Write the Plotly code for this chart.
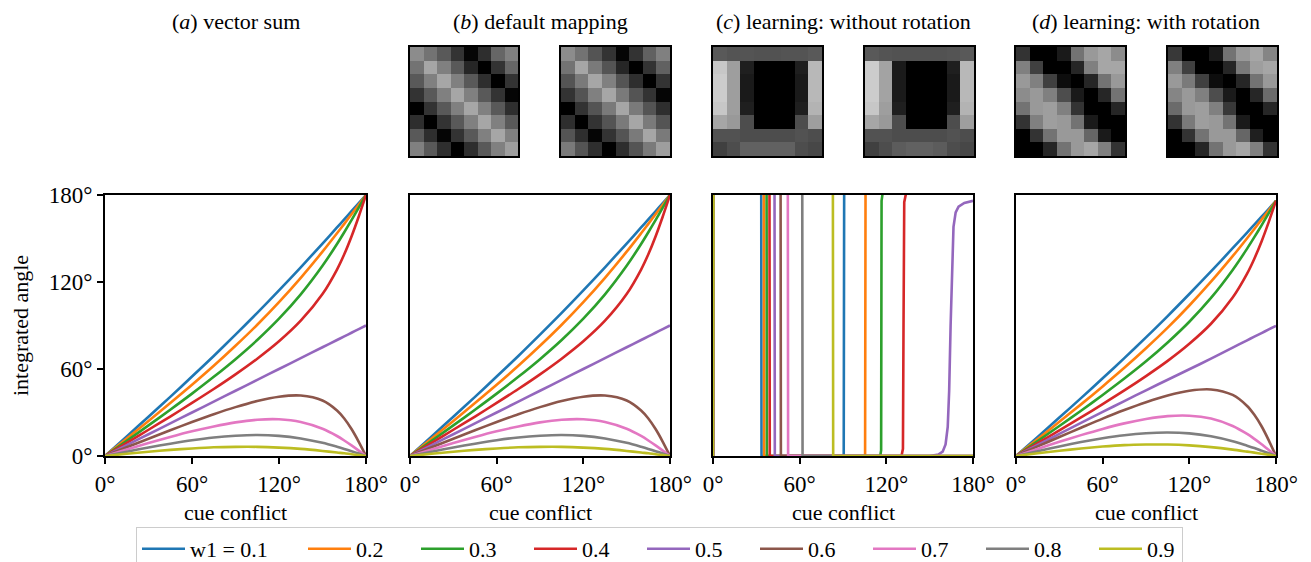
import plotly.graph_objects as go

# ---------------- data ----------------
CUE = [0, 15, 30, 45, 60, 75, 90, 105, 120, 135, 150, 160, 165, 170, 175, 180]
TICKS = [0, 60, 120, 180]
TICK_LABELS = ["0°", "60°", "120°", "180°"]
W1_LABELS = ["w1 = 0.1", "0.2", "0.3", "0.4", "0.5", "0.6", "0.7", "0.8", "0.9"]
COLORS = ["#1f77b4", "#ff7f0e", "#2ca02c", "#d62728", "#9467bd",
          "#8c564b", "#e377c2", "#7f7f7f", "#bcbd22"]
PANEL_TITLES = ["(<i>a</i>) vector sum", "(<i>b</i>) default mapping",
                "(<i>c</i>) learning: without rotation", "(<i>d</i>) learning: with rotation"]

# (a) vector sum: integrated angle per w1 (rows) at CUE
VECTOR_SUM = [
    [0, 13.5, 27.1, 40.8, 54.8, 69.0, 83.7, 98.7, 114.2, 130.1, 146.5, 157.6, 163.2, 168.8, 174.4, 180],
    [0, 12.0, 24.1, 36.5, 49.1, 62.2, 76.0, 90.5, 106.1, 122.9, 140.9, 153.6, 160.1, 166.7, 173.3, 180],
    [0, 10.5, 21.1, 31.9, 43.0, 54.6, 66.8, 80.0, 94.7, 111.5, 131.2, 146.2, 154.3, 162.7, 171.3, 180],
    [0, 9.0, 18.1, 27.2, 36.6, 46.2, 56.3, 67.1, 79.1, 93.3, 111.7, 128.6, 139.1, 151.4, 165.2, 180],
    [0, 7.5, 15.0, 22.5, 30.0, 37.5, 45.0, 52.5, 60.0, 67.5, 75.0, 80.0, 82.5, 85.0, 87.5, 90],
    [0, 6.0, 11.9, 17.8, 23.4, 28.8, 33.7, 37.9, 40.9, 41.7, 38.3, 31.4, 25.9, 18.6, 9.8, 0],
    [0, 4.5, 8.9, 13.1, 17.0, 20.4, 23.2, 25.0, 25.3, 23.5, 18.8, 13.8, 10.7, 7.3, 3.7, 0],
    [0, 3.0, 5.9, 8.5, 10.9, 12.8, 14.0, 14.5, 13.9, 12.1, 9.1, 6.4, 4.9, 3.3, 1.7, 0],
    [0, 1.5, 2.9, 4.2, 5.2, 6.0, 6.3, 6.3, 5.8, 4.9, 3.5, 2.4, 1.9, 1.2, 0.6, 0],
]

# (b) default mapping (read values coincide with panel a)
DEFAULT_MAPPING = [
    [0, 13.5, 27.1, 40.8, 54.8, 69.0, 83.7, 98.7, 114.2, 130.1, 146.5, 157.6, 163.2, 168.8, 174.4, 180],
    [0, 12.0, 24.1, 36.5, 49.1, 62.2, 76.0, 90.5, 106.1, 122.9, 140.9, 153.6, 160.1, 166.7, 173.3, 180],
    [0, 10.5, 21.1, 31.9, 43.0, 54.6, 66.8, 80.0, 94.7, 111.5, 131.2, 146.2, 154.3, 162.7, 171.3, 180],
    [0, 9.0, 18.1, 27.2, 36.6, 46.2, 56.3, 67.1, 79.1, 93.3, 111.7, 128.6, 139.1, 151.4, 165.2, 180],
    [0, 7.5, 15.0, 22.5, 30.0, 37.5, 45.0, 52.5, 60.0, 67.5, 75.0, 80.0, 82.5, 85.0, 87.5, 90],
    [0, 6.0, 11.9, 17.8, 23.4, 28.8, 33.7, 37.9, 40.9, 41.7, 38.3, 31.4, 25.9, 18.6, 9.8, 0],
    [0, 4.5, 8.9, 13.1, 17.0, 20.4, 23.2, 25.0, 25.3, 23.5, 18.8, 13.8, 10.7, 7.3, 3.7, 0],
    [0, 3.0, 5.9, 8.5, 10.9, 12.8, 14.0, 14.5, 13.9, 12.1, 9.1, 6.4, 4.9, 3.3, 1.7, 0],
    [0, 1.5, 2.9, 4.2, 5.2, 6.0, 6.3, 6.3, 5.8, 4.9, 3.5, 2.4, 1.9, 1.2, 0.6, 0],
]

# (d) learning with rotation
WITH_ROTATION = [
    [0, 13.2, 26.5, 39.9, 53.6, 67.5, 81.8, 96.5, 111.7, 127.3, 143.3, 154.1, 159.6, 165.0, 170.5, 176],
    [0, 11.7, 23.6, 35.6, 48.0, 60.8, 74.3, 88.5, 103.8, 120.2, 137.8, 150.2, 156.6, 163.0, 169.5, 176],
    [0, 10.3, 20.7, 31.2, 42.1, 53.4, 65.3, 78.3, 92.6, 109.0, 128.3, 143.0, 150.9, 159.1, 167.5, 176],
    [0, 8.8, 17.7, 26.6, 35.8, 45.2, 55.1, 65.6, 77.4, 91.2, 109.3, 125.8, 136.1, 148.0, 161.5, 176],
    [0, 7.6, 15.2, 22.8, 30.4, 37.9, 45.3, 52.6, 59.8, 67.1, 74.8, 79.8, 82.3, 84.8, 87.3, 89.8],
    [0, 6.6, 13.1, 19.5, 25.8, 31.7, 37.1, 41.7, 45.0, 45.9, 42.1, 34.5, 28.4, 20.5, 10.8, 0],
    [0, 4.9, 9.8, 14.4, 18.7, 22.5, 25.5, 27.5, 27.8, 25.8, 20.7, 15.2, 11.8, 8.1, 4.1, 0],
    [0, 3.3, 6.6, 9.6, 12.2, 14.3, 15.7, 16.2, 15.6, 13.6, 10.2, 7.1, 5.5, 3.7, 1.9, 0],
    [0, 1.9, 3.6, 5.2, 6.5, 7.5, 7.9, 7.9, 7.3, 6.1, 4.4, 3.0, 2.3, 1.6, 0.8, 0],
]

# (c) learning without rotation: step-like curves (x, y pairs per w1)
NOROT_X = [
    [0, 0.3, 33.4, 33.6, 90.5, 90.8, 180],
    [0, 0.3, 35.2, 35.4, 105.3, 105.6, 180],
    [0, 0.3, 37.1, 37.3, 115.8, 116.4, 116.7, 117.4, 180],
    [0, 0.3, 39.1, 39.3, 130.5, 131.5, 131.9, 132.4, 133.6, 180],
    [0, 0.3, 42.6, 42.8, 150, 156, 159, 161, 162.5, 163.5, 164.5, 165.5, 166.5, 168, 170, 174, 180],
    [0, 0.3, 46.8, 47.0, 180],
    [0, 0.3, 51.8, 52.0, 180],
    [0, 0.3, 61.8, 62.0, 180],
    [0, 0.3, 83.0, 83.2, 180],
]
NOROT_Y = [
    [0, 181, 181, 0, 0, 181, 181],
    [0, 181, 181, 0, 0, 181, 181],
    [0, 181, 181, 0, 0, 4, 176, 181, 181],
    [0, 181, 181, 0, 0, 5, 90, 175, 181, 181],
    [0, 181, 181, 0, 0, 1, 3, 8, 20, 45, 90, 135, 158, 168, 172, 174.5, 176],
    [0, 181, 181, 0, 0],
    [0, 181, 181, 0, 0],
    [0, 181, 181, 0, 0],
    [0, 181, 181, 0, 0],
]

# weight maps (grey level 0 = black, 1 = white), rows top to bottom
MAP_B_LEFT = [
    [0.55, 0.45, 0.35, 0.20, 0.02, 0.18, 0.40, 0.50],
    [0.45, 0.65, 0.50, 0.35, 0.15, 0.00, 0.20, 0.40],
    [0.35, 0.50, 0.65, 0.50, 0.35, 0.18, 0.00, 0.20],
    [0.20, 0.35, 0.50, 0.65, 0.50, 0.35, 0.20, 0.02],
    [0.00, 0.20, 0.35, 0.50, 0.65, 0.50, 0.35, 0.18],
    [0.18, 0.00, 0.20, 0.35, 0.50, 0.65, 0.50, 0.35],
    [0.35, 0.18, 0.02, 0.20, 0.35, 0.50, 0.65, 0.50],
    [0.50, 0.35, 0.18, 0.00, 0.18, 0.35, 0.50, 0.62],
]
MAP_B_RIGHT = [
    [0.55, 0.45, 0.33, 0.20, 0.02, 0.20, 0.38, 0.50],
    [0.45, 0.65, 0.48, 0.33, 0.15, 0.00, 0.20, 0.38],
    [0.33, 0.48, 0.65, 0.50, 0.33, 0.18, 0.00, 0.20],
    [0.20, 0.33, 0.50, 0.65, 0.48, 0.33, 0.20, 0.02],
    [0.00, 0.20, 0.33, 0.48, 0.65, 0.48, 0.33, 0.18],
    [0.18, 0.00, 0.20, 0.33, 0.48, 0.65, 0.48, 0.33],
    [0.33, 0.18, 0.02, 0.20, 0.33, 0.48, 0.65, 0.48],
    [0.48, 0.33, 0.18, 0.00, 0.18, 0.33, 0.48, 0.62],
]
MAP_C_LEFT = [
    [0.35, 0.33, 0.33, 0.32, 0.32, 0.33, 0.33, 0.35],
    [0.78, 0.62, 0.12, 0.00, 0.00, 0.00, 0.12, 0.72],
    [0.80, 0.62, 0.10, 0.00, 0.00, 0.00, 0.10, 0.72],
    [0.80, 0.62, 0.10, 0.00, 0.00, 0.00, 0.10, 0.72],
    [0.78, 0.62, 0.12, 0.00, 0.00, 0.00, 0.12, 0.70],
    [0.65, 0.60, 0.30, 0.00, 0.00, 0.00, 0.30, 0.62],
    [0.32, 0.32, 0.30, 0.30, 0.30, 0.30, 0.32, 0.30],
    [0.25, 0.30, 0.38, 0.38, 0.38, 0.38, 0.30, 0.28],
]
MAP_C_RIGHT = [
    [0.35, 0.33, 0.32, 0.32, 0.32, 0.32, 0.33, 0.35],
    [0.80, 0.64, 0.10, 0.00, 0.00, 0.00, 0.12, 0.72],
    [0.80, 0.64, 0.10, 0.00, 0.00, 0.00, 0.10, 0.72],
    [0.80, 0.64, 0.10, 0.00, 0.00, 0.00, 0.10, 0.72],
    [0.78, 0.62, 0.12, 0.00, 0.00, 0.00, 0.12, 0.70],
    [0.65, 0.60, 0.30, 0.00, 0.00, 0.00, 0.30, 0.62],
    [0.32, 0.32, 0.30, 0.30, 0.30, 0.30, 0.32, 0.30],
    [0.25, 0.30, 0.36, 0.38, 0.38, 0.36, 0.30, 0.28],
]
MAP_D_LEFT = [
    [0.20, 0.00, 0.00, 0.10, 0.45, 0.60, 0.65, 0.55],
    [0.50, 0.25, 0.00, 0.00, 0.15, 0.50, 0.65, 0.65],
    [0.60, 0.50, 0.25, 0.05, 0.00, 0.15, 0.45, 0.60],
    [0.55, 0.60, 0.50, 0.30, 0.10, 0.00, 0.15, 0.45],
    [0.45, 0.60, 0.62, 0.50, 0.20, 0.00, 0.00, 0.15],
    [0.20, 0.50, 0.62, 0.60, 0.45, 0.10, 0.00, 0.00],
    [0.00, 0.20, 0.45, 0.60, 0.60, 0.40, 0.10, 0.00],
    [0.00, 0.00, 0.15, 0.45, 0.60, 0.65, 0.50, 0.20],
]
MAP_D_RIGHT = [
    [0.22, 0.00, 0.00, 0.10, 0.45, 0.60, 0.65, 0.52],
    [0.50, 0.25, 0.00, 0.00, 0.15, 0.48, 0.62, 0.65],
    [0.60, 0.48, 0.25, 0.05, 0.00, 0.15, 0.45, 0.60],
    [0.52, 0.60, 0.50, 0.30, 0.10, 0.00, 0.15, 0.42],
    [0.42, 0.60, 0.62, 0.50, 0.22, 0.00, 0.00, 0.15],
    [0.20, 0.48, 0.62, 0.60, 0.45, 0.10, 0.00, 0.00],
    [0.00, 0.20, 0.45, 0.60, 0.60, 0.40, 0.12, 0.00],
    [0.00, 0.00, 0.15, 0.45, 0.60, 0.65, 0.50, 0.20],
]

# legend entry widths (px)
LEGEND_WIDTHS = [108, 55, 55, 55, 55, 55, 55, 55, 30]

# ---------------- layout helpers ----------------
W, H = 1311, 562
FONT = "Liberation Serif"


def dom_x(a, b):
    return [a / W, b / W]


def dom_y(top, bottom):
    return [(H - bottom) / H, (H - top) / H]


PANEL_X = [(105, 366), (410, 670), (713, 973), (1016, 1276)]
PANEL_Y = (195, 456)
IMAGE_X = [(410, 518), (561, 670), (713, 822), (865, 974), (1016, 1125), (1168, 1277)]
IMAGE_Y = (47, 156)

fig = go.Figure()
LW = 2.6

# panels a, b, d
for p_idx, data in [(0, VECTOR_SUM), (1, DEFAULT_MAPPING), (3, WITH_ROTATION)]:
    ax = "" if p_idx == 0 else str(p_idx + 1)
    for i, ys in enumerate(data):
        fig.add_trace(go.Scatter(
            x=CUE, y=ys, mode="lines",
            line=dict(color=COLORS[i], width=LW, shape="spline", smoothing=0.8),
            name=W1_LABELS[i], showlegend=(p_idx == 0),
            legendwidth=LEGEND_WIDTHS[i],
            xaxis="x" + ax, yaxis="y" + ax, hoverinfo="skip"))

# panel c
for i in range(9):
    fig.add_trace(go.Scatter(
        x=NOROT_X[i], y=NOROT_Y[i], mode="lines",
        line=dict(color=COLORS[i], width=LW),
        showlegend=False, xaxis="x3", yaxis="y3", hoverinfo="skip"))

# images
maps = [MAP_B_LEFT, MAP_B_RIGHT, MAP_C_LEFT, MAP_C_RIGHT, MAP_D_LEFT, MAP_D_RIGHT]
for k, z in enumerate(maps):
    n = str(k + 5)
    fig.add_trace(go.Heatmap(
        z=z, zmin=0, zmax=1,
        colorscale=[[0, "black"], [1, "white"]],
        showscale=False, xaxis="x" + n, yaxis="y" + n, hoverinfo="skip"))

layout = dict(
    width=W, height=H,
    margin=dict(l=0, r=0, t=0, b=0, autoexpand=False),
    paper_bgcolor="white", plot_bgcolor="white",
    font=dict(family=FONT, size=22, color="black"),
    showlegend=True,
    legend=dict(
        orientation="h", x=136 / W, xanchor="left",
        y=(H - 527) / H, yanchor="top",
        font=dict(family=FONT, size=22, color="black"),
        bordercolor="#cccccc", borderwidth=1, bgcolor="white",
        itemwidth=43, entrywidthmode="pixels", tracegroupgap=0,
    ),
)

for p in range(4):
    ax = "" if p == 0 else str(p + 1)
    layout["xaxis" + ax] = dict(
        domain=dom_x(*PANEL_X[p]), anchor="y" + ax, range=[0, 180],
        tickvals=TICKS, ticktext=TICK_LABELS, ticks="outside", ticklen=6,
        tickwidth=1.5, tickcolor="black", showline=True, mirror=True,
        linecolor="black", linewidth=1.8, showgrid=False, zeroline=False,
        tickfont=dict(family=FONT, size=23, color="black"), fixedrange=True)
    layout["yaxis" + ax] = dict(
        domain=dom_y(*PANEL_Y), anchor="x" + ax, range=[0, 180],
        tickvals=TICKS, ticktext=TICK_LABELS,
        ticks="outside" if p == 0 else "", ticklen=6, tickwidth=1.5,
        tickcolor="black", showticklabels=(p == 0), showline=True,
        mirror=True, linecolor="black", linewidth=1.8, showgrid=False,
        zeroline=False, tickfont=dict(family=FONT, size=23, color="black"),
        fixedrange=True)

for k in range(6):
    n = str(k + 5)
    layout["xaxis" + n] = dict(
        domain=dom_x(*IMAGE_X[k]), anchor="y" + n, range=[-0.5, 7.5],
        showticklabels=False, ticks="", showline=True, mirror=True,
        linecolor="black", linewidth=1.6, showgrid=False, zeroline=False,
        fixedrange=True)
    layout["yaxis" + n] = dict(
        domain=dom_y(*IMAGE_Y), anchor="x" + n, range=[7.5, -0.5],
        showticklabels=False, ticks="", showline=True, mirror=True,
        linecolor="black", linewidth=1.6, showgrid=False, zeroline=False,
        fixedrange=True)

annotations = []
for p in range(4):
    cx = (PANEL_X[p][0] + PANEL_X[p][1]) / 2 / W
    annotations.append(dict(
        text=PANEL_TITLES[p], x=cx, y=(H - 22) / H, xref="paper", yref="paper",
        xanchor="center", yanchor="middle", showarrow=False,
        font=dict(family=FONT, size=22, color="black")))
    annotations.append(dict(
        text="cue conflict", x=cx, y=(H - 512) / H, xref="paper", yref="paper",
        xanchor="center", yanchor="middle", showarrow=False,
        font=dict(family=FONT, size=22, color="black")))
annotations.append(dict(
    text="integrated angle", x=20 / W, y=(H - 326) / H, xref="paper", yref="paper",
    xanchor="center", yanchor="middle", showarrow=False, textangle=-90,
    font=dict(family=FONT, size=22, color="black")))
layout["annotations"] = annotations

fig.update_layout(**layout)
fig.write_html("out.html")
